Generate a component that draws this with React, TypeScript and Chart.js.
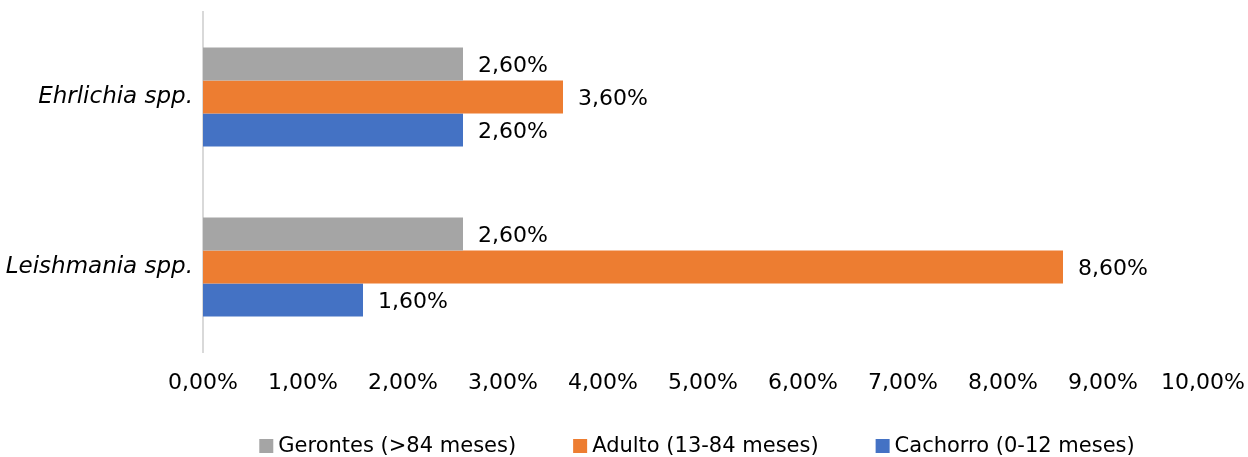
import React, { useEffect, useRef } from 'react';
import { Chart, registerables } from 'chart.js';

Chart.register(...registerables);

const categories = ['Ehrlichia spp.', 'Leishmania spp.'];
const seriesNames = ['Gerontes (>84 meses)', 'Adulto (13-84 meses)', 'Cachorro (0-12 meses)'];
const gerontes = [2.6, 2.6];
const adulto = [3.6, 8.6];
const cachorro = [2.6, 1.6];
const seriesColors = ['#A5A5A5', '#ED7D31', '#4472C4'];
const xMin = 0;
const xMax = 10;
const xStep = 1;

const FONT = '"DejaVu Sans", Verdana, sans-serif';
const fmt = (v: number) => v.toFixed(2).replace('.', ',') + '%';

const valueLabels = {
  id: 'valueLabels',
  afterDatasetsDraw(chart: any) {
    const ctx = chart.ctx;
    ctx.save();
    ctx.font = `22px ${FONT}`;
    ctx.fillStyle = '#000000';
    ctx.textAlign = 'left';
    ctx.textBaseline = 'middle';
    chart.data.datasets.forEach((ds: any, i: number) => {
      const meta = chart.getDatasetMeta(i);
      meta.data.forEach((bar: any, j: number) => {
        ctx.fillText(fmt(ds.data[j]), bar.x + 15, bar.y + 2);
      });
    });
    ctx.restore();
  },
};

const bottomLegend = {
  id: 'bottomLegend',
  afterDraw(chart: any) {
    const ctx = chart.ctx;
    ctx.save();
    ctx.font = `21px ${FONT}`;
    const box = 14;
    const boxGap = 5;
    const itemGap = 57;
    const items = chart.data.datasets.map((ds: any) => ({
      text: ds.label as string,
      color: ds.backgroundColor as string,
      w: ctx.measureText(ds.label).width,
    }));
    const total = items.reduce((s: number, it: any) => s + box + boxGap + it.w, 0) + itemGap * (items.length - 1);
    const center = (chart.chartArea.left + chart.chartArea.right) / 2 - 6;
    let x = center - total / 2;
    const baseline = 452;
    ctx.textAlign = 'left';
    ctx.textBaseline = 'alphabetic';
    items.forEach((it: any) => {
      ctx.fillStyle = it.color;
      ctx.fillRect(x, baseline - 13, box, box);
      ctx.fillStyle = '#000000';
      ctx.fillText(it.text, x + box + boxGap, baseline);
      x += box + boxGap + it.w + itemGap;
    });
    ctx.restore();
  },
};

export default function App() {
  const canvasRef = useRef<HTMLCanvasElement | null>(null);

  useEffect(() => {
    document.body.style.margin = '0';
    const canvas = canvasRef.current;
    if (!canvas) return;
    const seriesData = [gerontes, adulto, cachorro];
    const chart = new Chart(canvas, {
      type: 'bar',
      data: {
        labels: categories,
        datasets: seriesNames.map((name, i) => ({
          label: name,
          data: seriesData[i],
          backgroundColor: seriesColors[i],
          borderWidth: 0,
          categoryPercentage: 0.582,
          barPercentage: 1,
        })),
      },
      options: {
        indexAxis: 'y',
        responsive: false,
        animation: false,
        devicePixelRatio: 1,
        layout: { padding: { top: 12, right: 45, left: 0, bottom: 55 } },
        plugins: {
          tooltip: { enabled: false },
          legend: { display: false },
        },
        scales: {
          x: {
            min: xMin,
            max: xMax,
            ticks: {
              stepSize: xStep,
              callback: (v: any) => fmt(Number(v)),
              color: '#000000',
              font: { family: FONT, size: 22 },
              padding: 18,
              maxRotation: 0,
              autoSkip: false,
            },
            grid: { display: false, drawTicks: false },
            border: { display: false },
            afterFit: (s: any) => {
              s.height = 50;
              s.paddingLeft = 0;
              s.paddingRight = 0;
            },
          },
          y: {
            ticks: {
              color: '#000000',
              font: { family: FONT, size: 23, style: 'italic' },
              padding: 10,
            },
            grid: { display: false, drawTicks: false },
            border: { display: true, color: '#D9D9D9', width: 2 },
            afterFit: (s: any) => {
              s.width = 203;
              s.paddingTop = 0;
              s.paddingBottom = 0;
            },
          },
        },
      } as any,
      plugins: [valueLabels, bottomLegend],
    });
    return () => chart.destroy();
  }, []);

  return (
    <div style={{ width: 1248, height: 457 }}>
      <canvas ref={canvasRef} width={1248} height={457} />
    </div>
  );
}
